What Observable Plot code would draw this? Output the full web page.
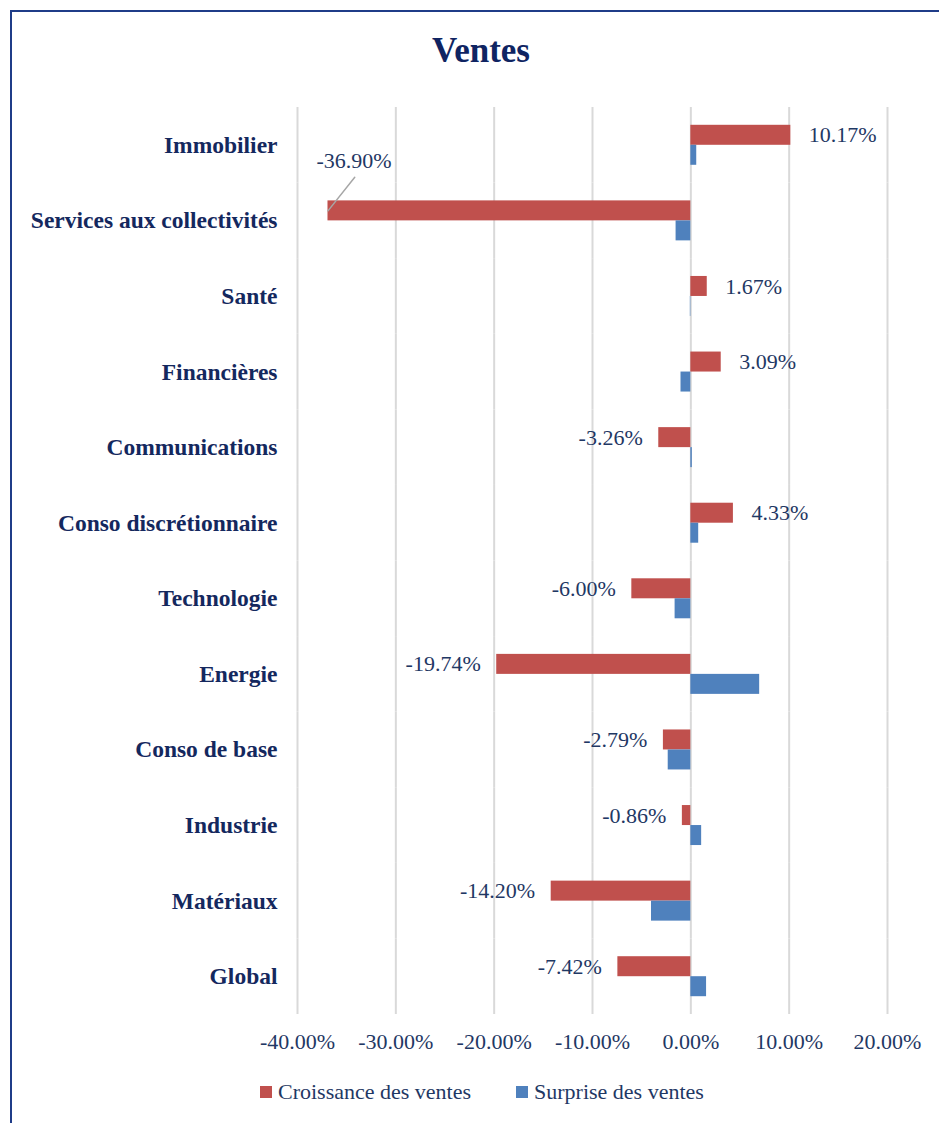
<!DOCTYPE html>
<html>
<head>
<meta charset="utf-8">
<script src="https://cdn.jsdelivr.net/npm/d3@7"></script>
<script src="https://cdn.jsdelivr.net/npm/@observablehq/plot@0.6"></script>
<style>
  html, body { margin: 0; padding: 0; background: #fff; width: 939px; height: 1123px; overflow: hidden; }
  body { position: relative; font-family: "Liberation Serif", "Times New Roman", serif; }
  #frame { position: absolute; left: 10px; top: 10px; width: 940px; height: 1120px;
           border-top: 2px solid #1F3C88; border-left: 2px solid #1F3C88; }
  #title { position: absolute; left: 12px; width: 938px; top: 34px; text-align: center;
           font-size: 35px; line-height: 34px; font-weight: bold; color: #0F2462; }
  #chart { position: absolute; left: 0; top: 90px; }
  #legend .item { position: absolute; top: 1081px; display: flex; align-items: center;
            font-size: 22px; line-height: 22px; color: #1F3864; white-space: nowrap; }
  #legend .sw { display: inline-block; width: 12px; height: 12px; margin-right: 6px; }
  #chart g[aria-label^="fy-axis"] text { font-weight: bold; font-size: 23.5px; fill: #14285E; }
  #chart g[aria-label^="x-axis"] text { font-size: 22px; fill: #1F3864; }
</style>
</head>
<body>
<div id="frame"></div>
<div id="title">Ventes</div>
<div id="chart"></div>
<div id="legend"></div>
<script>
const categories = ["Immobilier", "Services aux collectivités", "Santé", "Financières", "Communications",
  "Conso discrétionnaire", "Technologie", "Energie", "Conso de base", "Industrie", "Matériaux", "Global"];
const croissance = [10.17, -36.90, 1.67, 3.09, -3.26, 4.33, -6.00, -19.74, -2.79, -0.86, -14.20, -7.42];
const surprise = [0.6, -1.5, -0.05, -1.0, 0.15, 0.8, -1.6, 7.0, -2.3, 1.1, -4.0, 1.6];
const seriesNames = ["Croissance des ventes", "Surprise des ventes"];
const seriesColors = ["#C0504D", "#4F81BD"];
const xTicks = [-40, -30, -20, -10, 0, 10, 20];
const calloutCategory = "Services aux collectivités";

const rows = [];
categories.forEach((c, i) => {
  rows.push({cat: c, series: seriesNames[0], value: croissance[i]});
  rows.push({cat: c, series: seriesNames[1], value: surprise[i]});
});
const pct = v => v.toFixed(2) + "%";
const navy = "#1F3864";
const isRed = d => d.series === seriesNames[0];

const chart = Plot.plot({
  width: 939,
  height: 969,
  marginLeft: 297,
  marginRight: 52,
  marginTop: 17,
  marginBottom: 45,
  style: {fontFamily: "'Liberation Serif', 'Times New Roman', serif", fontSize: "22px", color: navy, background: "transparent", overflow: "visible"},
  x: {domain: [-40, 20], ticks: xTicks, tickFormat: pct, tickSize: 0, tickPadding: 19, label: null},
  y: {domain: seriesNames, axis: null, paddingInner: 0, paddingOuter: 0.89, round: false},
  fy: {domain: categories, label: null, tickSize: 0, tickPadding: 20, padding: 0, round: false},
  color: {domain: seriesNames, range: seriesColors},
  facet: {data: rows, y: "cat"},
  marks: [
    Plot.ruleX(xTicks, {stroke: "#D9D9D9", strokeWidth: 2}),
    Plot.barX(rows, {x: "value", y: "series", fill: "series"}),
    Plot.text(rows, {filter: d => isRed(d) && d.value >= 0, x: "value", y: "series", text: d => pct(d.value),
      textAnchor: "start", dx: 18, fill: navy, fontSize: 22}),
    Plot.text(rows, {filter: d => isRed(d) && d.value < 0 && d.cat !== calloutCategory, x: "value", y: "series", text: d => pct(d.value),
      textAnchor: "end", dx: -16, fill: navy, fontSize: 22}),
    Plot.vector(rows, {filter: d => isRed(d) && d.cat === calloutCategory, x: "value", y: "series",
      length: 43, rotate: 38.5, anchor: "start", stroke: "#A6A6A6", strokeWidth: 1.5,
      shape: {draw(context, l) { context.moveTo(0, 0); context.lineTo(0, -l); }}}),
    Plot.text(rows, {filter: d => isRed(d) && d.cat === calloutCategory, x: "value", y: "series", text: d => pct(d.value),
      textAnchor: "middle", dx: 26, dy: -50, fill: navy, fontSize: 22})
  ]
});
document.getElementById("chart").appendChild(chart);

const legendLefts = [260, 516];
const legend = d3.select("#legend");
seriesNames.forEach((s, i) => {
  const item = legend.append("div").attr("class", "item").style("left", legendLefts[i] + "px");
  item.append("span").attr("class", "sw").style("background", chart.scale("color").apply(s));
  item.append("span").text(s);
});
</script>
</body>
</html>
